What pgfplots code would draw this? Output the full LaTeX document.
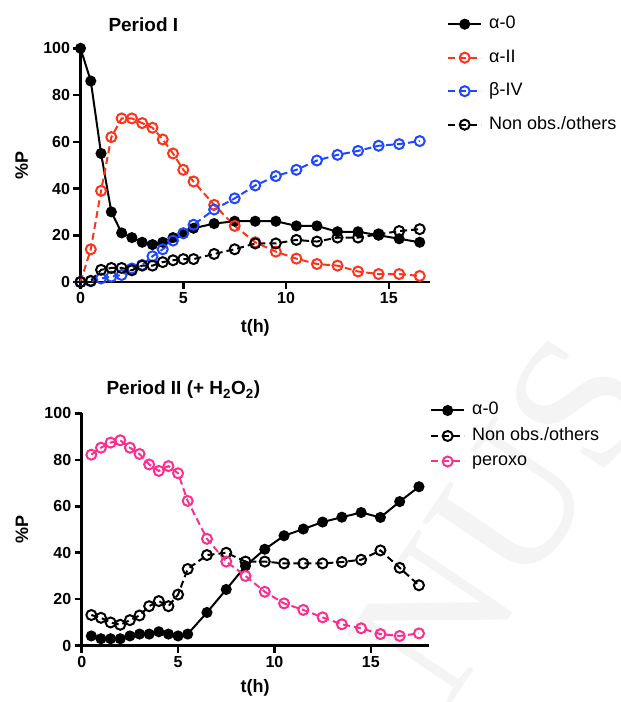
\documentclass[border=0pt]{standalone}
\usepackage{fontspec}
\setmainfont{Liberation Sans}
\newfontfamily\wmfont{Liberation Serif}
\usepackage{pgfplots}
\pgfplotsset{compat=1.18}

\definecolor{cRed}{RGB}{255,51,25}
\definecolor{cBlue}{RGB}{30,72,255}
\definecolor{cPink}{RGB}{255,45,140}

% Prism-like kinetics panel
\pgfplotsset{
  kinetic/.style={
    scale only axis,
    axis lines=left,
    axis line style={line width=2.5pt,-},
    tick style={line width=2.5pt,black},
    tick align=outside,
    major tick length=7pt,
    enlargelimits=false,
    ymin=0, ymax=100, ytick={0,20,...,100},
    xmin=0, xtick={0,5,10,15},
    minor tick num=0,
    /pgf/number format/assume math mode=true,
    ticklabel style={font=\bfseries\fontsize{16}{16}\selectfont},
    label style={font=\bfseries\fontsize{18}{18}\selectfont},
    title style={font=\bfseries\fontsize{19}{19}\selectfont, anchor=base west},
    clip=false,
    legend cell align=left,
    legend image code/.code={\draw[mark repeat=2,mark phase=2] plot coordinates {(0pt,0pt)(16.5pt,0pt)(33pt,0pt)};},
  },
  filledser/.style={black, solid, line width=2pt, mark=*, mark size=4.5pt, mark options={solid}},
  openser/.style={#1, line width=2pt, dash pattern=on 7pt off 4pt, mark=o, mark size=5pt, mark options={solid, line width=2pt}},
}

\begin{document}
\begin{tikzpicture}
\useasboundingbox (0pt,0pt) rectangle (621pt,702pt);

% watermark
\node[rotate=56, text=gray!9, font=\wmfont\fontsize{190}{190}\selectfont] at (502pt,185pt) {NUS};

%--------------------------- Period I ---------------------------
\begin{axis}[kinetic,
  at={(80.5pt,420pt)}, anchor=origin,
  width=349.5pt, height=233.7pt,
  xmax=17,
  xlabel={t(h)}, ylabel={\%P},
  xlabel style={at={(axis description cs:0.5,-0.197)}, anchor=center},
  ylabel style={at={(axis description cs:-0.168,0.5)}, anchor=center},
  title={Period I},
  title style={at={(axis description cs:0.070,1.048)}},
  legend style={at={(axis description cs:1.0487,1.1404)}, anchor=north west,
    draw=none, fill=none, inner sep=0pt, row sep=16.5pt, column sep=7pt,
    nodes={inner sep=0pt, text height=13pt, text depth=4pt},
    font=\fontsize{18}{18}\selectfont},
]
\addplot[filledser] coordinates {
 (0,100) (0.5,86) (1,55) (1.5,30) (2,21) (2.5,19) (3,17) (3.5,16) (4,17)
 (4.5,19) (5,21) (5.5,23) (6.5,25) (7.5,26) (8.5,26) (9.5,26) (10.5,24)
 (11.5,24) (12.5,21.5) (13.5,21.5) (14.5,20) (15.5,18.5) (16.5,17)};
\addlegendentry{α-0}
\addplot[openser=cRed] coordinates {
 (0,0) (0.5,14) (1,39) (1.5,62) (2,70) (2.5,70) (3,68) (3.5,66) (4,61)
 (4.5,55) (5,48) (5.5,43) (6.5,33) (7.5,24) (8.5,17) (9.5,13) (10.5,10)
 (11.5,7.7) (12.5,7) (13.5,4.5) (14.5,3.4) (15.5,3.4) (16.5,2.6)};
\addlegendentry{α-II}
\addplot[openser=cBlue] coordinates {
 (0,0) (0.5,0.3) (1,1.5) (1.5,2.3) (2,3) (2.5,5.8) (3,7.3) (3.5,11) (4,14)
 (4.5,17.7) (5,20.8) (5.5,24.5) (6.5,31) (7.5,35.8) (8.5,41.3) (9.5,45.3)
 (10.5,48) (11.5,52) (12.5,54.4) (13.5,56.1) (14.5,58.3) (15.5,59) (16.5,60.3)};
\addlegendentry{β-IV}
\addplot[openser=black] coordinates {
 (0,0) (0.5,0.5) (1,5.2) (1.5,6) (2,6) (2.5,5) (3,7) (3.5,7) (4,8.5)
 (4.5,9.3) (5,9.8) (5.5,9.8) (6.5,12) (7.5,14) (8.5,16.5) (9.5,16.5)
 (10.5,18) (11.5,17.3) (12.5,19) (13.5,19) (14.5,20.4) (15.5,21.8) (16.5,22.6)};
\addlegendentry{Non obs./others}
\end{axis}

%----------------------- Period II (+ H2O2) ----------------------
\begin{axis}[kinetic,
  at={(81.7pt,56.3pt)}, anchor=origin,
  width=346.9pt, height=232.4pt,
  xmax=18,
  xlabel={t(h)}, ylabel={\%P},
  xlabel style={at={(axis description cs:0.5,-0.182)}, anchor=center},
  ylabel style={at={(axis description cs:-0.172,0.5)}, anchor=center},
  title={Period II (+ H\textsubscript{2}O\textsubscript{2})},
  title style={at={(axis description cs:0.0614,1.053)}},
  legend style={at={(axis description cs:1.004,1.0495)}, anchor=north west,
    draw=none, fill=none, inner sep=0pt, row sep=8.5pt, column sep=7pt,
    nodes={inner sep=0pt, text height=13pt, text depth=4pt},
    font=\fontsize{18}{18}\selectfont},
]
\addplot[filledser] coordinates {
 (0.5,4.2) (1,3) (1.5,3) (2,3) (2.5,4.2) (3,5) (3.5,5) (4,6) (4.5,5) (5,4.2)
 (5.5,5) (6.5,14.3) (7.5,24.2) (8.5,34.3) (9.5,41.5) (10.5,47.3) (11.5,50.2)
 (12.5,53.2) (13.5,55.3) (14.5,57.3) (15.5,55.2) (16.5,62) (17.5,68.4)};
\addlegendentry{α-0}
\addplot[openser=black] coordinates {
 (0.5,13.2) (1,12) (1.5,10) (2,9) (2.5,11) (3,13) (3.5,17) (4,19.2) (4.5,17)
 (5,22) (5.5,33) (6.5,39) (7.5,40) (8.5,36.2) (9.5,36.2) (10.5,35.4)
 (11.5,35.4) (12.5,35.4) (13.5,36) (14.5,37) (15.5,41) (16.5,33.5) (17.5,26)};
\addlegendentry{Non obs./others}
\addplot[openser=cPink] coordinates {
 (0.5,82.2) (1,85.2) (1.5,87.4) (2,88.4) (2.5,85.2) (3,82.5) (3.5,78) (4,75.2)
 (4.5,77.3) (5,74.2) (5.5,62.3) (6.5,46) (7.5,36.2) (8.5,30) (9.5,23.2)
 (10.5,18.2) (11.5,15.4) (12.5,12.2) (13.5,9.2) (14.5,7.5) (15.5,5) (16.5,4.2)
 (17.5,5.3)};
\addlegendentry{peroxo}
\end{axis}
\end{tikzpicture}
\end{document}
